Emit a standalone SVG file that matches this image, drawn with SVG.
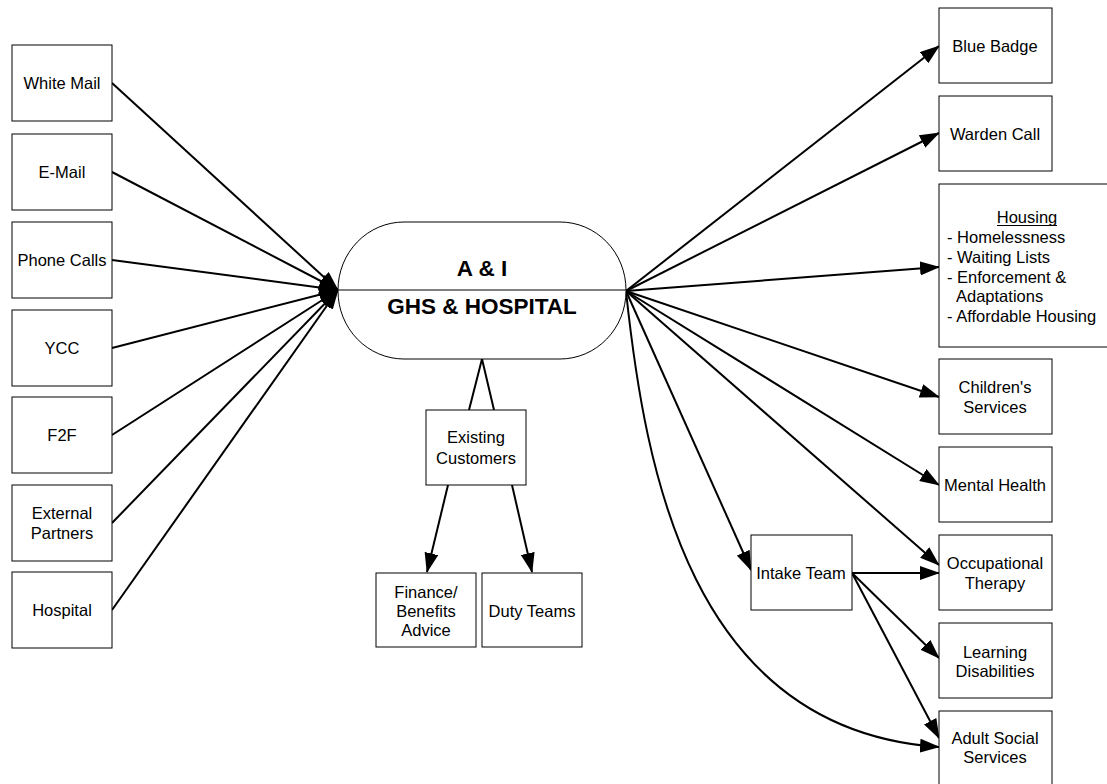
<svg xmlns="http://www.w3.org/2000/svg" width="1107" height="784" viewBox="0 0 1107 784">
<style>
.box{fill:#fff;stroke:#000;stroke-width:1}
.t{font-family:"Liberation Sans",Arial,sans-serif;font-size:16.5px;fill:#000;text-anchor:middle}
.tl{font-family:"Liberation Sans",Arial,sans-serif;font-size:16.5px;fill:#000}
.tb{font-family:"Liberation Sans",Arial,sans-serif;font-size:22.5px;font-weight:bold;fill:#000;text-anchor:middle}
.c{fill:none;stroke:#000;stroke-width:2}
.a{fill:none;stroke:#000;stroke-width:2;marker-end:url(#ah)}
</style>
<defs>
<marker id="ah" markerUnits="userSpaceOnUse" markerWidth="20" markerHeight="14" refX="19" refY="7" orient="auto">
<path d="M0,0 L20,7 L0,14 z" fill="#000"/>
</marker>
</defs>
<rect width="1107" height="784" fill="#fff"/>
<g id="connectors">
<line class="a" x1="112" y1="83" x2="338" y2="290"/>
<line class="a" x1="112" y1="172" x2="338" y2="290"/>
<line class="a" x1="112" y1="260" x2="338" y2="290"/>
<line class="a" x1="112" y1="348" x2="338" y2="290"/>
<line class="a" x1="112" y1="435" x2="338" y2="290"/>
<line class="a" x1="112" y1="523" x2="338" y2="290"/>
<line class="a" x1="112" y1="610" x2="338" y2="290"/>
<line class="a" x1="626" y1="291" x2="939" y2="46"/>
<line class="a" x1="626" y1="291" x2="939" y2="133"/>
<line class="a" x1="626" y1="291" x2="939" y2="267"/>
<line class="a" x1="626" y1="291" x2="939" y2="397"/>
<line class="a" x1="626" y1="291" x2="939" y2="485"/>
<line class="a" x1="626" y1="291" x2="939" y2="565"/>
<line class="a" x1="626" y1="291" x2="751" y2="570"/>
<path class="a" d="M626,291 C645,470 690,730 939,747"/>
<line class="a" x1="852" y1="573" x2="939" y2="573"/>
<line class="a" x1="852" y1="573" x2="939" y2="658"/>
<line class="a" x1="852" y1="573" x2="939" y2="738"/>
<polyline class="c" points="469,410 482,359 494,410"/>
<line class="a" x1="448" y1="485" x2="427" y2="572"/>
<line class="a" x1="512" y1="485" x2="532" y2="572"/>
</g>
<g id="center">
<rect x="338" y="222" width="288" height="137" rx="66" ry="68" fill="#fff" stroke="#000" stroke-width="1"/>
<line x1="338" y1="290" x2="626" y2="290" stroke="#000" stroke-width="1"/>
<text class="tb" x="482" y="276">A &amp; I</text>
<text class="tb" x="482" y="314">GHS &amp; HOSPITAL</text>
</g>
<g id="white-mail"><rect class="box" x="12" y="45" width="100" height="76"/><text class="t" x="62" y="89">White Mail</text></g>
<g id="e-mail"><rect class="box" x="12" y="134" width="100" height="76"/><text class="t" x="62" y="178">E-Mail</text></g>
<g id="phone-calls"><rect class="box" x="12" y="222" width="100" height="76"/><text class="t" x="62" y="266">Phone Calls</text></g>
<g id="ycc"><rect class="box" x="12" y="310" width="100" height="76"/><text class="t" x="62" y="354">YCC</text></g>
<g id="f2f"><rect class="box" x="12" y="397" width="100" height="76"/><text class="t" x="62" y="441">F2F</text></g>
<g id="external-partners"><rect class="box" x="12" y="485" width="100" height="76"/><text class="t" x="62" y="519">External</text><text class="t" x="62" y="539">Partners</text></g>
<g id="hospital"><rect class="box" x="12" y="572" width="100" height="76"/><text class="t" x="62" y="616">Hospital</text></g>
<g id="existing-customers"><rect class="box" x="426" y="410" width="100" height="75"/><text class="t" x="476" y="443">Existing</text><text class="t" x="476" y="464">Customers</text></g>
<g id="finance"><rect class="box" x="376" y="573" width="100" height="74"/><text class="t" x="426" y="598">Finance/</text><text class="t" x="426" y="617">Benefits</text><text class="t" x="426" y="636">Advice</text></g>
<g id="duty-teams"><rect class="box" x="482" y="573" width="100" height="74"/><text class="t" x="532" y="617">Duty Teams</text></g>
<g id="intake-team"><rect class="box" x="751" y="535" width="101" height="75"/><text class="t" x="801" y="579">Intake Team</text></g>
<g id="blue-badge"><rect class="box" x="939" y="8" width="113" height="75"/><text class="t" x="995" y="52">Blue Badge</text></g>
<g id="warden-call"><rect class="box" x="939" y="96" width="113" height="75"/><text class="t" x="995" y="140">Warden Call</text></g>
<g id="housing"><rect class="box" x="939" y="184" width="176" height="163"/>
<text class="t" x="1027" y="223">Housing</text><line x1="997" y1="225.5" x2="1057" y2="225.5" stroke="#000" stroke-width="1"/>
<text class="tl" x="947" y="243">- Homelessness</text>
<text class="tl" x="947" y="263">- Waiting Lists</text>
<text class="tl" x="947" y="283">- Enforcement &amp;</text>
<text class="tl" x="956" y="302">Adaptations</text>
<text class="tl" x="947" y="322">- Affordable Housing</text></g>
<g id="childrens-services"><rect class="box" x="939" y="359" width="113" height="75"/><text class="t" x="995" y="393">Children's</text><text class="t" x="995" y="413">Services</text></g>
<g id="mental-health"><rect class="box" x="939" y="447" width="113" height="75"/><text class="t" x="995" y="491">Mental Health</text></g>
<g id="occupational-therapy"><rect class="box" x="939" y="535" width="113" height="75"/><text class="t" x="995" y="569">Occupational</text><text class="t" x="995" y="589">Therapy</text></g>
<g id="learning-disabilities"><rect class="box" x="939" y="623" width="113" height="75"/><text class="t" x="995" y="658">Learning</text><text class="t" x="995" y="677">Disabilities</text></g>
<g id="adult-social-services"><rect class="box" x="939" y="711" width="113" height="76"/><text class="t" x="995" y="744">Adult Social</text><text class="t" x="995" y="763">Services</text></g>
</svg>
